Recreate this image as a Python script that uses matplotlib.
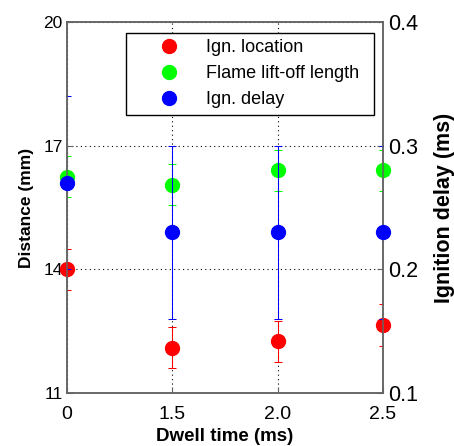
import numpy as np
import matplotlib.pyplot as plt
from matplotlib.lines import Line2D
from matplotlib.patches import Rectangle

plt.rcParams['font.family'] = ['Liberation Sans', 'DejaVu Sans']

# dwell time categories (evenly spaced on the x axis)
dwell_labels = ['0', '1.5', '2.0', '2.5']
x = np.arange(len(dwell_labels))

# left axis: distances in mm
ign_location = [14.0, 12.1, 12.25, 12.65]
ign_location_err = [0.5, 0.5, 0.5, 0.5]
liftoff_length = [16.25, 16.05, 16.4, 16.4]
liftoff_err = [0.5, 0.5, 0.5, 0.5]

# right axis: ignition delay in ms
ign_delay = [0.27, 0.23, 0.23, 0.23]
ign_delay_err = [0.07, 0.07, 0.07, 0.07]

spine_col = '#646464'

fig = plt.figure(figsize=(4.54, 4.46), dpi=100)
ax = fig.add_axes([0.1476, 0.1188, 0.696, 0.832])
ax2 = ax.twinx()


def points(axis, y, err, color):
    eb = axis.errorbar(x, y, yerr=err, fmt='none', ecolor=color,
                       elinewidth=0.75, capsize=3, capthick=0.75, zorder=2)
    for art in eb.lines[1]:
        art.set_clip_on(True)
    # keep the vertical bars sitting on the frame hidden behind the spines
    inner = Rectangle((0.004, 0), 0.992, 1, transform=axis.transAxes)
    for col in eb.lines[2]:
        col.set_clip_path(inner)
    axis.plot(x, y, 'o', color=color, markersize=10, clip_on=False, zorder=3)


points(ax, ign_location, ign_location_err, '#ff0000')
points(ax, liftoff_length, liftoff_err, '#00ff00')
points(ax2, ign_delay, ign_delay_err, '#0000ff')

ax.set_xlim(0, 3)
ax.set_xticks(x)
ax.set_xticklabels(dwell_labels, fontsize=14)
ax.tick_params(axis='x', pad=9)
ax.set_ylim(11, 20)
ax.set_yticks([11, 14, 17, 20])
ax.tick_params(axis='y', labelsize=12.5, pad=3)
ax2.set_ylim(0.1, 0.4)
ax2.set_yticks([0.1, 0.2, 0.3, 0.4])
ax2.tick_params(axis='y', labelsize=15.5, pad=4)

for a in (ax, ax2):
    a.tick_params(direction='in', length=4, color=spine_col)
    for s in a.spines.values():
        s.set_color(spine_col)
        s.set_linewidth(1.1)

ax.grid(True, color='black', linestyle=(0, (1, 3)), linewidth=0.8)

ax.set_xlabel('Dwell time (ms)', fontsize=13.5, fontweight='bold', labelpad=4)
ax.set_ylabel('Distance (mm)', fontsize=12.5, fontweight='bold', labelpad=7)
ax2.set_ylabel('Ignition delay (ms)', fontsize=15.5, fontweight='bold', labelpad=11)

handles = [
    Line2D([], [], marker='o', linestyle='none', color='#ff0000', markersize=10),
    Line2D([], [], marker='o', linestyle='none', color='#00ff00', markersize=10),
    Line2D([], [], marker='o', linestyle='none', color='#0000ff', markersize=10),
]
leg = ax2.legend(handles, ['Ign. location', 'Flame lift-off length', 'Ign. delay'],
                 loc='upper left', bbox_to_anchor=(0.187, 0.5, 0.785, 0.47),
                 mode='expand', fontsize=13,
                 fancybox=False, framealpha=1, edgecolor='black',
                 handlelength=4, handletextpad=0.05, borderpad=0.35,
                 labelspacing=0.5, borderaxespad=0)
leg.get_frame().set_linewidth(1)

fig.savefig('out.png', dpi=100)
